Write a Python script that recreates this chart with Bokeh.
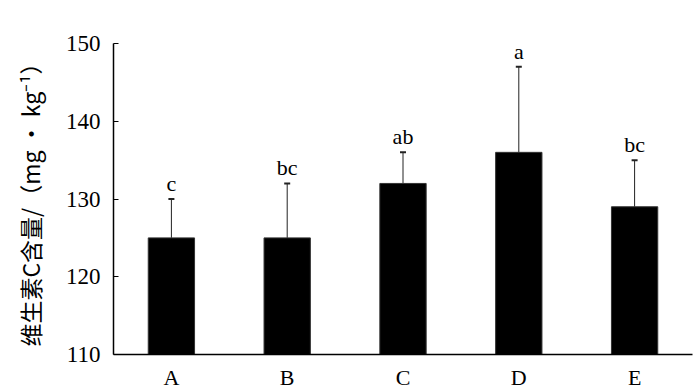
from bokeh.plotting import figure
from bokeh.models import ColumnDataSource, Whisker, TeeHead, FixedTicker, FactorRange, Range1d
from bokeh.core.properties import value
from bokeh.embed import file_html
from bokeh.resources import INLINE

categories = ["A", "B", "C", "D", "E"]
means = [125, 125, 132, 136, 129]
errors = [5, 7, 4, 11, 6]
letters = ["c", "bc", "ab", "a", "bc"]
y_ticks = [110, 120, 130, 140, 150]

upper = [m + e for m, e in zip(means, errors)]
src = ColumnDataSource(dict(x=categories, top=means, upper=upper, lower=means, lab=letters))

p = figure(width=700, height=392, x_range=FactorRange(*categories, range_padding=0),
           y_range=Range1d(110, 150), output_backend="svg", toolbar_location=None,
           min_border_left=113, min_border_right=8, min_border_top=43, min_border_bottom=34)
p.outline_line_color = None
p.xgrid.visible = False
p.ygrid.visible = False
p.background_fill_color = "white"

p.vbar(x="x", top="top", bottom=110, width=0.4, source=src, fill_color="black", line_color="#333333", line_width=1)

wh = Whisker(base="x", upper="upper", lower="lower", source=src, line_color="#222222", line_width=1,
             upper_head=TeeHead(size=6, line_color="#222222", line_width=2), lower_head=None)
p.add_layout(wh)

p.text(x="x", y="upper", text="lab", source=src, text_align="center", text_baseline="bottom",
       y_offset=-3, text_font=value("Liberation Serif"), text_font_size="22px", text_color="black")

p.yaxis.ticker = FixedTicker(ticks=y_ticks)
p.yaxis.major_tick_in = 5
p.yaxis.major_tick_out = 0
p.yaxis.minor_tick_line_color = None
p.yaxis.axis_line_color = "black"
p.yaxis.axis_line_width = 1.5
p.yaxis.major_label_text_font = "Liberation Serif"
p.yaxis.major_label_text_font_size = "23px"
p.yaxis.major_label_text_color = "black"
p.yaxis.major_label_standoff = 13
p.yaxis.axis_label = "维生素C含量/（mg • kg⁻¹）"
p.yaxis.axis_label_text_font = "Noto Sans CJK SC"
p.yaxis.axis_label_text_font_style = "normal"
p.yaxis.axis_label_text_font_size = "23px"
p.yaxis.axis_label_text_color = "black"
p.yaxis.axis_label_standoff = 16

p.xaxis.major_tick_line_color = None
p.xaxis.minor_tick_line_color = None
p.xaxis.axis_line_color = "black"
p.xaxis.axis_line_width = 1.5
p.xaxis.major_label_text_font = "Liberation Serif"
p.xaxis.major_label_text_font_size = "22px"
p.xaxis.major_label_text_color = "black"
p.xaxis.major_label_standoff = 4

open("out.html", "w").write(file_html(p, INLINE))
